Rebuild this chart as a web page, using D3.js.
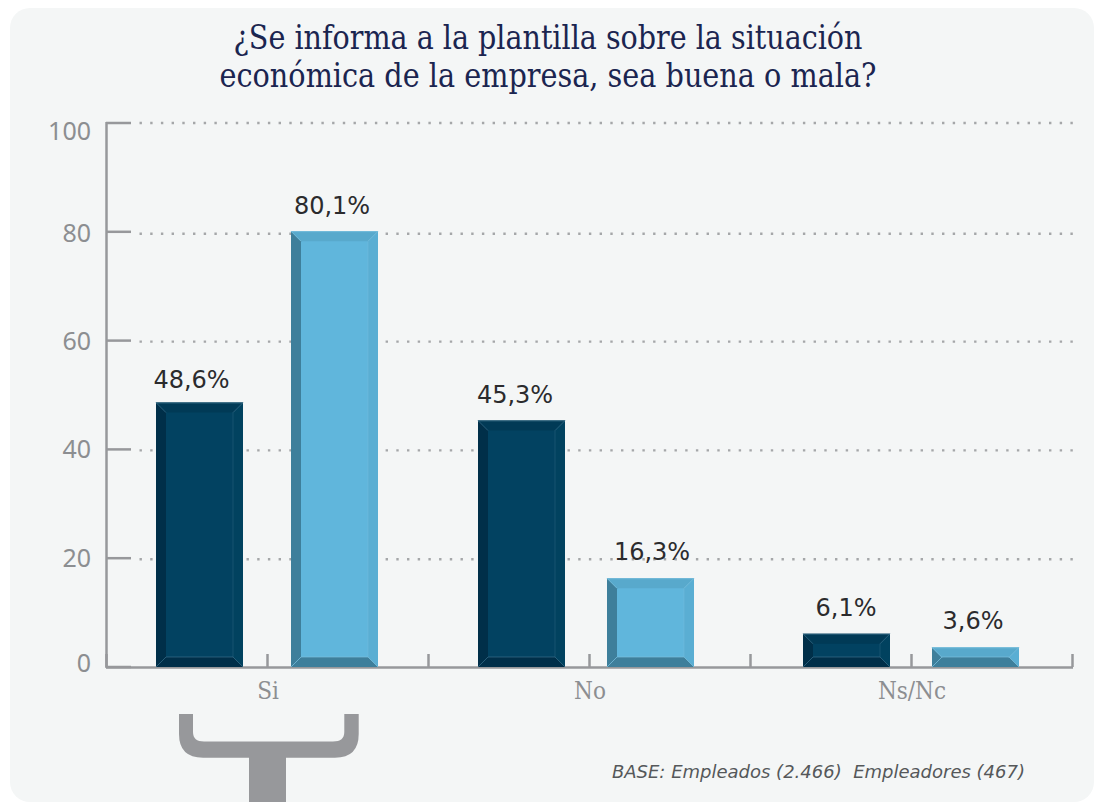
<!DOCTYPE html>
<html><head><meta charset="utf-8">
<script src="https://cdn.jsdelivr.net/npm/d3@7"></script>
<style>html,body{margin:0;padding:0;background:#fff}svg{display:block}</style>
</head><body><div id="c"></div>
<script>
const categories = ["Si","No","Ns/Nc"];
const seriesNames = ["Empleados","Empleadores"];
const empleados = [48.6,45.3,6.1];
const empleadores = [80.1,16.3,3.6];
const valueLabels = [["48,6%","45,3%","6,1%"],["80,1%","16,3%","3,6%"]];
const yTicks = [0,20,40,60,80,100];
const titleLines = ["¿Se informa a la plantilla sobre la situación","económica de la empresa, sea buena o mala?"];
const baseNote = "BASE: Empleados (2.466)  Empleadores (467)";

const W=1098,H=802;
const svg=d3.select("#c").append("svg").attr("width",W).attr("height",H);
const y=d3.scaleLinear().domain([0,100]).range([667,123]);
const x=d3.scaleBand().domain(categories).range([106,1072]);
const barW=87, offs=[[-67.5,67.5],[-67.5,61.5],[-64.5,64.5]], bev=10;
const labelDx=[[-8,-6.5,-0.5],[-2.5,1.5,-2.5]], labelDy=[[15,18,18],[17,18,18]];
const titleLen=[629,657];
const palette=[{top:"#013a56",left:"#002f49",right:"#01425f",bottom:"#002f49",face:"#024261",edge:"#3a6f8a"},
               {top:"#58a9cc",left:"#3e7f9b",right:"#5aaed3",bottom:"#3e7f9b",face:"#60b6dc",edge:"#7cc0dc"}];
const axisCol="#97989b";

svg.append("rect").attr("x",10).attr("y",8).attr("width",1084).attr("height",794).attr("rx",20).attr("fill","#f4f6f6");

svg.append("g").selectAll("text").data(titleLines).join("text")
  .attr("x",548).attr("y",(d,i)=>49+i*38).attr("text-anchor","middle")
  .attr("textLength",(d,i)=>titleLen[i]).attr("lengthAdjust","spacingAndGlyphs")
  .attr("font-family","'DejaVu Serif Condensed','DejaVu Serif'").attr("font-size",33).attr("fill","#1b2550").text(d=>d);

// grid
svg.append("g").selectAll("line").data(yTicks.filter(d=>d>0)).join("line")
  .attr("x1",139.5).attr("x2",1073).attr("y1",d=>y(d)+(d==100?0:(d==80?2:1))).attr("y2",d=>y(d)+(d==100?0:(d==80?2:1)))
  .attr("stroke","#a5a7a9").attr("stroke-width",2.4).attr("stroke-dasharray","2.4 8.3");

// y axis
const ya=svg.append("g").attr("fill","none").attr("stroke",axisCol).attr("stroke-width",2.5);
ya.append("line").attr("x1",106.5).attr("x2",106.5).attr("y1",y(100)-1).attr("y2",y(0)+1);
ya.selectAll(".t").data(yTicks).join("line").attr("class","t")
  .attr("x1",106).attr("x2",131).attr("y1",d=>y(d)).attr("y2",d=>y(d));
svg.append("g").selectAll("text").data(yTicks).join("text")
  .attr("x",91).attr("y",d=>y(d)+(d==100?17:(d==0?5:(d==80?10:9))))
  .attr("text-anchor","end").attr("font-family","'Noto Sans'").attr("font-size",25).attr("fill","#8c8e91").text(d=>d);

// x axis
const xa=svg.append("g").attr("fill","none").attr("stroke",axisCol).attr("stroke-width",2.5);
xa.append("line").attr("x1",106).attr("x2",1073).attr("y1",y(0)+.5).attr("y2",y(0)+.5);
const step=x.step()/2;
const tickPos=d3.range(0,7).map(i=>x.range()[0]+i*step);
xa.selectAll(".t").data(tickPos).join("line").attr("class","t")
  .attr("x1",d=>d+.5).attr("x2",d=>d+.5).attr("y1",y(0)-13).attr("y2",y(0));
svg.append("g").selectAll("text").data(categories).join("text")
  .attr("x",d=>x(d)+x.bandwidth()/2+1).attr("y",699).attr("text-anchor","middle")
  .attr("font-family","'DejaVu Serif Condensed','DejaVu Serif'").attr("font-size",24).attr("fill","#8c8e91").text(d=>d);

// bars
[empleados,empleadores].forEach((vals,s)=>{
  const c=palette[s];
  const g=svg.append("g");
  vals.forEach((v,i)=>{
    const cx=x(categories[i])+x.bandwidth()/2+offs[i][s];
    const x0=cx-barW/2,x1=cx+barW/2,t=y(v),b=y(0);
    const poly=(pts,f)=>g.append("polygon").attr("points",pts.map(p=>p.join(",")).join(" ")).attr("fill",f);
    g.append("rect").attr("x",x0).attr("y",t).attr("width",barW).attr("height",b-t).attr("fill",c.face);
    poly([[x0,t],[x0+bev,t+bev],[x0+bev,b-bev],[x0,b]],c.left);
    poly([[x1,t],[x1-bev,t+bev],[x1-bev,b-bev],[x1,b]],c.right);
    poly([[x0,t],[x1,t],[x1-bev,t+bev],[x0+bev,t+bev]],c.top);
    poly([[x0,b],[x1,b],[x1-bev,b-bev],[x0+bev,b-bev]],c.bottom);
    g.append("path").attr("fill","none").attr("stroke",c.edge).attr("stroke-width",0.7)
      .attr("d",`M${x0},${t+.4}H${x1}M${x0},${t}L${x0+bev},${t+bev}M${x1},${t}L${x1-bev},${t+bev}M${x0},${b}L${x0+bev},${b-bev}H${x1-bev}L${x1},${b}`);
    g.append("line").attr("x1",x1-bev).attr("x2",x1-bev).attr("y1",t+bev).attr("y2",b-bev)
      .attr("stroke",c.edge).attr("stroke-width",0.7).attr("stroke-opacity",0.55);
    g.append("text").attr("x",cx+labelDx[s][i]).attr("y",t-labelDy[s][i]).attr("text-anchor","middle")
      .attr("font-family","'DejaVu Sans'").attr("font-size",24).attr("fill","#2b2b2d").text(valueLabels[s][i]);
  });
});

// bracket
svg.append("path").attr("fill","#97989b").attr("d","M179,714H193V732Q193,741.5 204,741.5H333Q344.3,741.5 344.3,732V714H358.7V734Q358.7,757.7 335,757.7H286V802H249V757.7H203Q179,757.7 179,734Z");

svg.append("text").attr("x",1025).attr("y",778).attr("text-anchor","end").style("white-space","pre")
  .attr("font-family","'DejaVu Sans'").attr("font-style","italic").attr("font-size",18).attr("fill","#55585a").text(baseNote);
</script></body></html>
